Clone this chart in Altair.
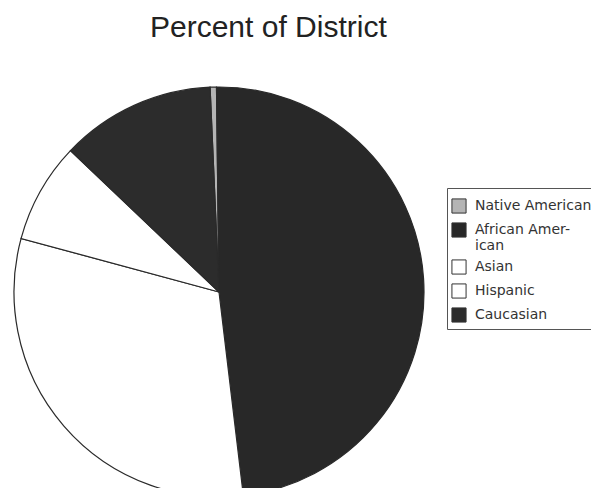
import math
import altair as alt
import pandas as pd

groups = ["Native American", "African American", "Asian", "Hispanic", "Caucasian"]
percents = [0.5, 48.3, 31.1, 7.9, 12.2]
fills = ["#b4b4b4", "#282828", "#ffffff", "#ffffff", "#2c2c2c"]

df = pd.DataFrame({"group": groups, "pct": percents, "ord": list(range(len(groups)))})

TOP = 60
start = -2.5 * math.pi / 180

pie = alt.Chart(df).mark_arc(radius=205, stroke="#2a2a2a", strokeWidth=1.2).encode(
    theta=alt.Theta("pct:Q", stack=True, scale=alt.Scale(range=[start, start + 2 * math.pi])),
    order=alt.Order("ord:Q"),
    color=alt.Color(
        "group:N",
        sort=groups,
        scale=alt.Scale(domain=groups, range=fills),
        legend=alt.Legend(
            title=" ",
            titleFontSize=2,
            titlePadding=4,
            orient="none",
            legendX=447,
            legendY=188 - TOP,
            symbolType="square",
            symbolSize=200,
            symbolStrokeColor="#333333",
            symbolStrokeWidth=1,
            symbolOpacity=1,
            labelFont="DejaVu Sans",
            labelFontSize=14,
            labelColor="#333333",
            labelOffset=8,
            labelLimit=200,
            rowPadding=4,
            padding=4,
            strokeColor="#555555",
            fillColor="#ffffff",
            labelExpr="datum.label == 'African American' ? ['African Amer-', 'ican'] : datum.label",
        ),
    ),
    x=alt.value(219),
    y=alt.value(292 - TOP),
).properties(
    width=591,
    height=488 - TOP,
    autosize=alt.AutoSizeParams(type="none"),
    padding={"left": 0, "top": TOP, "right": 0, "bottom": 0},
    title=alt.TitleParams(
        "Percent of District",
        anchor="start",
        dx=150,
        font="Liberation Sans",
        fontSize=30,
        fontWeight="normal",
        color="#222222",
        offset=17,
    ),
).configure_view(stroke=None)

pie.save("out.html", embed_options={"renderer": "svg", "actions": False})
